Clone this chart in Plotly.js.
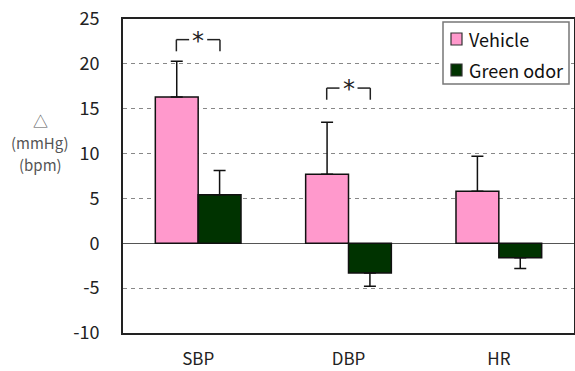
<!DOCTYPE html>
<html><head><meta charset="utf-8">
<script src="https://cdn.plot.ly/plotly-3.0.1.min.js"></script>
<style>html,body{margin:0;padding:0;background:#fff}#c{width:575px;height:371px}</style>
</head><body><div id="c"></div>
<script>
const categories = ["SBP", "DBP", "HR"];
const seriesNames = ["Vehicle", "Green odor"];
const seriesColors = ["#ff99cc", "#003300"];
const vehicle = [16.3, 7.7, 5.8];
const vehicleErrUp = [4.0, 5.8, 3.9];
const vehicleErrDown = [0, 0, 0];
const green = [5.4, -3.3, -1.6];
const greenErrUp = [2.7, 0, 0];
const greenErrDown = [0, 1.5, 1.2];
const yTicks = [-10, -5, 0, 5, 10, 15, 20, 25];
const yTitleLines = ["△", "(mmHg)", "(bpm)"];
const sigCategories = [0, 1];       // category indices with significance brackets
const sigLevels = [22.7, 17.3];      // bracket heights (data units)

const font = "'Noto Sans CJK JP', 'Noto Sans', sans-serif";
const W = 575, H = 371, M = {l: 123, r: 1, t: 19, b: 38};
const pw = W - M.l - M.r, ph = H - M.t - M.b;
const px = v => (v - M.l) / pw;
const py = v => 1 - (v - M.t) / ph;

const traces = [
  {type: "bar", name: seriesNames[0], x: categories, y: vehicle,
   marker: {color: seriesColors[0], line: {color: "#111", width: 1.5}},
   error_y: {type: "data", symmetric: false, array: vehicleErrUp, arrayminus: vehicleErrDown,
             color: "#111", thickness: 1.5, width: 6}},
  {type: "bar", name: seriesNames[1], x: categories, y: green,
   marker: {color: seriesColors[1], line: {color: "#111", width: 1.5}},
   error_y: {type: "data", symmetric: false, array: greenErrUp, arrayminus: greenErrDown,
             color: "#111", thickness: 1.5, width: 6}}
];

const shapes = [];
const annotations = [];
const half = 0.145;
sigCategories.forEach((ci, i) => {
  const yTop = sigLevels[i];
  const yBot = yTop - 1.3;
  shapes.push({type: "line", xref: "x", yref: "y", x0: ci - half, x1: ci - half, y0: yBot, y1: yTop, line: {color: "#222", width: 1.5}});
  shapes.push({type: "line", xref: "x", yref: "y", x0: ci - half, x1: ci - 0.06, y0: yTop, y1: yTop, line: {color: "#222", width: 1.5}});
  shapes.push({type: "line", xref: "x", yref: "y", x0: ci + 0.06, x1: ci + half, y0: yTop, y1: yTop, line: {color: "#222", width: 1.5}});
  shapes.push({type: "line", xref: "x", yref: "y", x0: ci + half, x1: ci + half, y0: yBot, y1: yTop, line: {color: "#222", width: 1.5}});
  annotations.push({xref: "x", yref: "y", x: ci, y: yTop - 0.1, text: "*", showarrow: false,
                    font: {family: "'DejaVu Sans', sans-serif", size: 24, color: "#222"}, yanchor: "middle"});
});
const titleY = [120, 142, 164];
yTitleLines.forEach((t, i) => {
  annotations.push({xref: "paper", yref: "paper", x: px(40), y: py(titleY[i]), xanchor: "center", yanchor: "middle",
    text: t, showarrow: false, font: {family: font, size: 15, color: "#555"}});
});

// legend (drawn manually to match the compact original)
shapes.push({type: "rect", xref: "paper", yref: "paper", x0: px(443), x1: px(569), y0: py(84), y1: py(22),
             fillcolor: "#fff", line: {color: "#777", width: 1.5}, layer: "above"});
const legRowY = [39, 70];
seriesNames.forEach((n, i) => {
  shapes.push({type: "rect", xref: "paper", yref: "paper", x0: px(451), x1: px(462),
               y0: py(legRowY[i] + 6), y1: py(legRowY[i] - 6),
               fillcolor: seriesColors[i], line: {color: "#333", width: 1.2}, layer: "above"});
  annotations.push({xref: "paper", yref: "paper", x: px(467), y: py(legRowY[i]), xanchor: "left", yanchor: "middle",
    text: n, showarrow: false, font: {family: font, size: 18, color: "#111"}});
});

const layout = {
  width: W, height: H,
  margin: M,
  paper_bgcolor: "#fff", plot_bgcolor: "#fff",
  barmode: "group", bargap: 0.43, bargroupgap: 0,
  font: {family: font, size: 16, color: "#222"},
  showlegend: false,
  xaxis: {type: "category", showline: true, linecolor: "#222", linewidth: 2, mirror: true,
          showgrid: false, ticks: "", ticklabelstandoff: 10,
          tickfont: {family: font, size: 17, color: "#222"}},
  yaxis: {range: [-10, 25], tickvals: yTicks, ticktext: yTicks.map(String),
          showline: true, linecolor: "#222", linewidth: 2, mirror: true,
          showgrid: true, gridcolor: "#888", griddash: "4px,4px", gridwidth: 1,
          zeroline: true, zerolinecolor: "#555", zerolinewidth: 1.5,
          ticks: "", ticklabelstandoff: 18,
          tickfont: {family: font, size: 18, color: "#222"}},
  shapes: shapes, annotations: annotations
};
Plotly.newPlot("c", traces, layout, {staticPlot: true, displayModeBar: false});
</script></body></html>
